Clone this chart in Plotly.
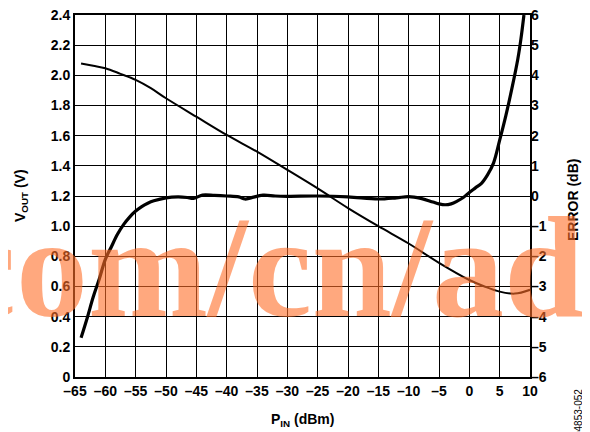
import plotly.graph_objects as go

# ---- data ----
pin_vout = [-64, -62, -60, -57.5, -55, -52.5, -50, -45, -40, -35, -30, -25, -20,
            -15, -10, -5, 0, 2.5, 5, 7.5, 10]
vout = [2.078, 2.063, 2.047, 2.01, 1.97, 1.915, 1.848, 1.726, 1.605, 1.494, 1.373,
        1.25, 1.12, 1.0, 0.885, 0.757, 0.643, 0.6, 0.566, 0.553, 0.578]

pin_err = [-64, -63, -62, -61, -60, -59, -58, -57, -56, -55, -54, -53, -52, -50,
           -48, -46.5, -45.5, -44, -42, -40, -38, -37, -36, -34, -32, -30, -25,
           -20, -15, -12, -10, -8, -6, -5, -4, -3, -2, -1, 0, 1, 2, 3, 4, 5, 6,
           7, 8, 8.5, 9.0]
err = [-4.70, -4.05, -3.35, -2.75, -2.10, -1.68, -1.27, -0.95, -0.70, -0.50, -0.35,
       -0.24, -0.16, -0.06, -0.03, -0.05, -0.08, 0.03, 0.02, 0.0, -0.03, -0.10,
       -0.06, 0.03, 0.0, -0.01, 0.0, -0.03, -0.10, -0.06, -0.02, -0.08, -0.20,
       -0.26, -0.29, -0.26, -0.17, -0.05, 0.12, 0.27, 0.42, 0.70, 1.10, 1.85,
       2.65, 3.55, 4.55, 5.2, 6.0]

x_ticks = [-65, -60, -55, -50, -45, -40, -35, -30, -25, -20, -15, -10, -5, 0, 5, 10]
x_ticktext = [("–" + str(-v)) if v < 0 else str(v) for v in x_ticks]
yl_ticks = [0, 0.2, 0.4, 0.6, 0.8, 1.0, 1.2, 1.4, 1.6, 1.8, 2.0, 2.2, 2.4]
yl_ticktext = ["0", "0.2", "0.4", "0.6", "0.8", "1.0", "1.2", "1.4", "1.6", "1.8",
               "2.0", "2.2", "2.4"]
yr_ticks = [-6, -5, -4, -3, -2, -1, 0, 1, 2, 3, 4, 5, 6]
yr_ticktext = [("–" + str(-v)) if v < 0 else str(v) for v in yr_ticks]

FONT = "Liberation Sans, Arial, sans-serif"
OFF = 8  # default page body margin
W, H = 590 - OFF, 432 - OFF
L, T = 75 - OFF, 15 - OFF
R, B = W - (530 - OFF), H - (377 - OFF)
PW, PH = W - L - R, H - T - B


def px(xp):  # page pixel x -> paper fraction
    return (xp - OFF - L) / PW


def py(yp):  # page pixel y -> paper fraction
    return (H - B - (yp - OFF)) / PH


bold = lambda s: "<b>%s</b>" % s

fig = go.Figure()
fig.add_trace(go.Scatter(x=pin_vout, y=vout, mode="lines",
                         line=dict(color="black", width=2, shape="spline"),
                         showlegend=False, yaxis="y"))
fig.add_trace(go.Scatter(x=pin_err, y=err, mode="lines",
                         line=dict(color="black", width=3.2, shape="spline"),
                         showlegend=False, yaxis="y2"))

tickfont = dict(family=FONT, size=14, color="black")
fig.update_layout(
    width=W, height=H,
    margin=dict(l=L, r=R, t=T, b=B, autoexpand=False),
    paper_bgcolor="white", plot_bgcolor="white",
    font=dict(family=FONT, size=14, color="black"),
    xaxis=dict(range=[-65, 10], tickvals=x_ticks, ticktext=[bold(t) for t in x_ticktext],
               showgrid=True, gridcolor="black", gridwidth=1.2,
               showline=True, linecolor="black", linewidth=2, mirror=True,
               ticks="", zeroline=False, automargin=False, tickfont=tickfont,
               ticklabeloverflow="allow"),
    yaxis=dict(range=[0, 2.4], tickvals=yl_ticks, ticktext=[bold(t) for t in yl_ticktext],
               showgrid=True, gridcolor="black", gridwidth=1.2,
               showline=True, linecolor="black", linewidth=2, mirror=True,
               ticks="", zeroline=False, automargin=False, tickfont=tickfont,
               ticklabeloverflow="allow"),
    yaxis2=dict(range=[-6, 6], tickvals=yr_ticks, ticktext=[bold(t) for t in yr_ticktext],
                overlaying="y", side="right", showgrid=False, zeroline=False,
                showline=False, ticks="", automargin=False, tickfont=tickfont,
                ticklabeloverflow="allow"),
)

# axis titles
fig.add_annotation(text=bold("P<sub>IN</sub> (dBm)"), xref="paper", yref="paper",
                   x=px(302), y=py(420), xanchor="center", yanchor="middle",
                   showarrow=False, font=dict(family=FONT, size=14))
fig.add_annotation(text=bold("V<sub>OUT</sub> (V)"), xref="paper", yref="paper",
                   x=px(21), y=py(196), xanchor="center", yanchor="middle", textangle=-90,
                   showarrow=False, font=dict(family=FONT, size=14))
fig.add_annotation(text=bold("ERROR (dB)"), xref="paper", yref="paper",
                   x=px(573), y=py(200), xanchor="center", yanchor="middle", textangle=-90,
                   showarrow=False, font=dict(family=FONT, size=14))

# watermark
fig.add_annotation(text="<b>com/cn/ad</b>", xref="paper", yref="paper",
                   x=px(268), y=py(267), xanchor="center", yanchor="middle",
                   showarrow=False,
                   font=dict(family="Liberation Serif, Times New Roman, serif", size=144,
                             color="rgba(255,110,40,0.6)"))

# figure id
fig.add_annotation(text="04853-052", xref="paper", yref="paper",
                   x=px(578), y=py(387), xanchor="center", yanchor="top",
                   textangle=-90, showarrow=False,
                   font=dict(family=FONT, size=10, color="black"))

fig.write_html("out.html")
